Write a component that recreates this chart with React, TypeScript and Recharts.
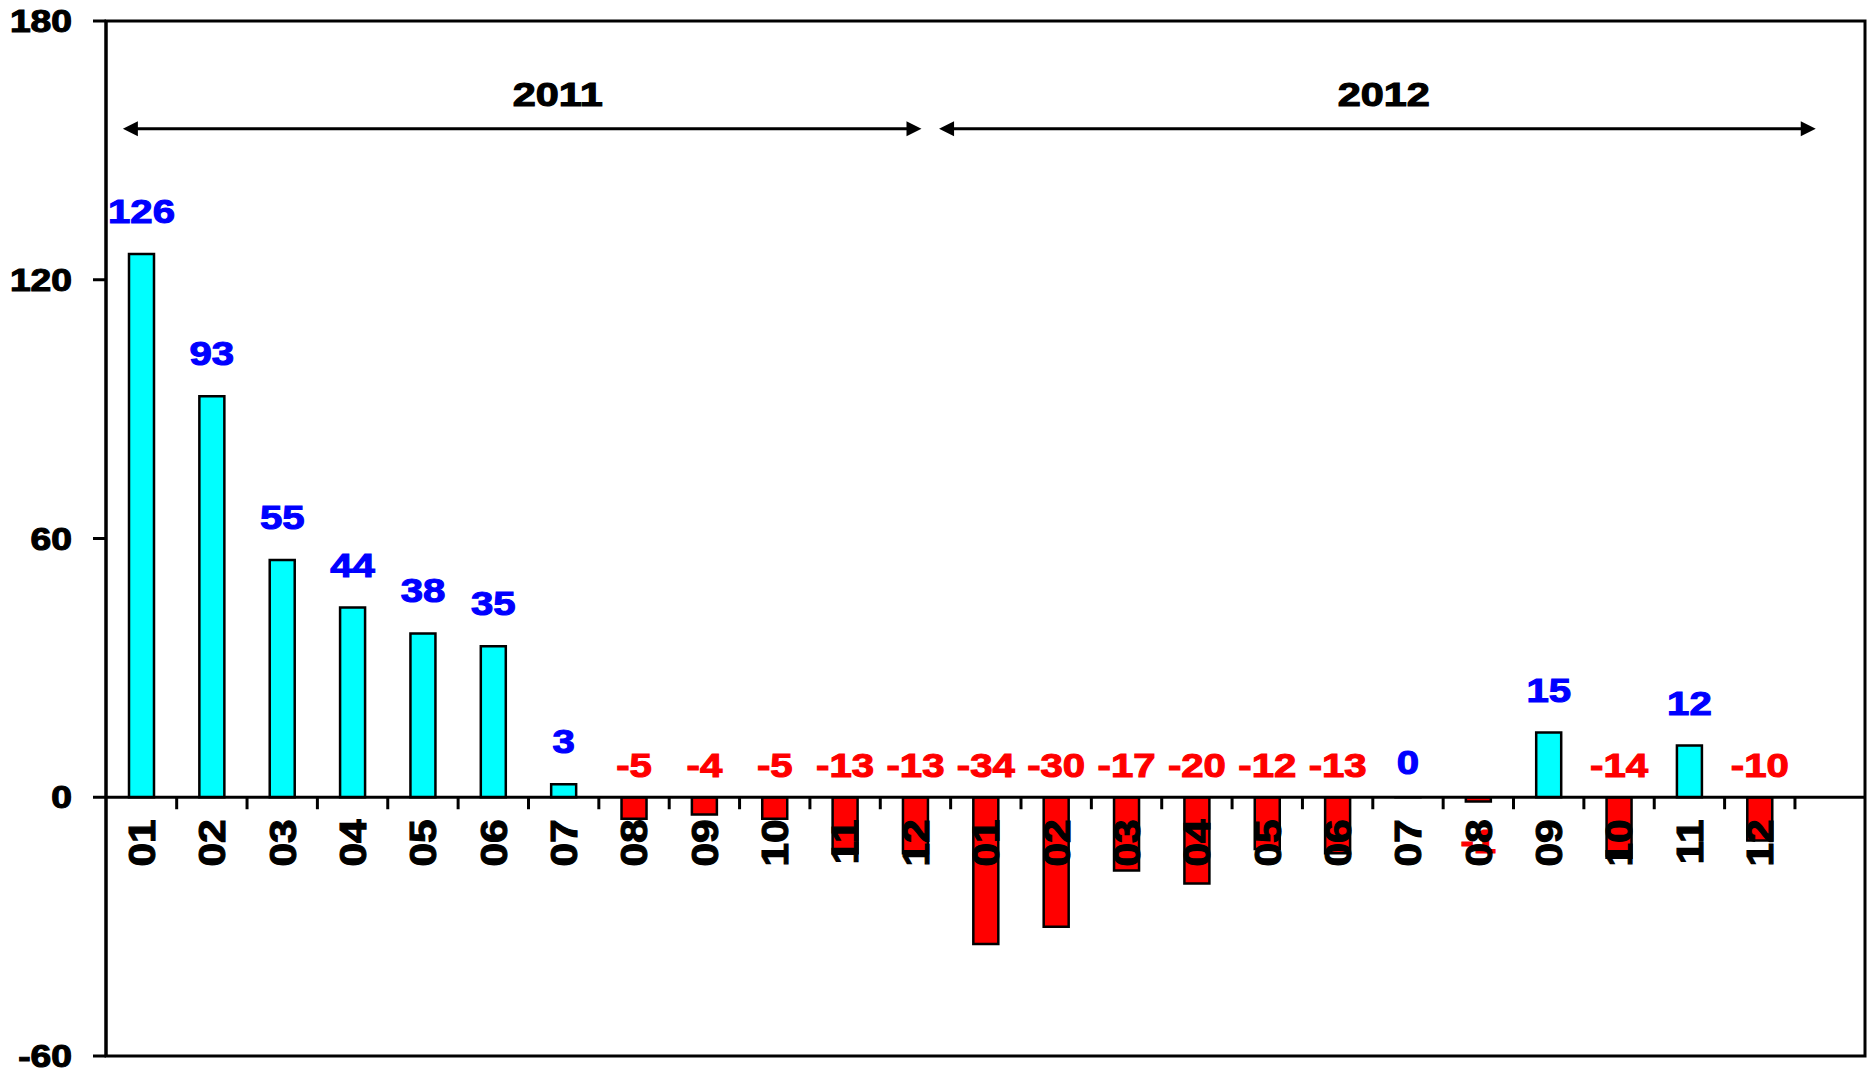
import React from "react";
import {
  BarChart,
  Bar,
  XAxis,
  YAxis,
  Cell,
  LabelList,
  ReferenceLine,
  ReferenceArea,
} from "recharts";

const MONTHS = ["01", "02", "03", "04", "05", "06", "07", "08", "09", "10", "11", "12"];
const VALUES_2011 = [126, 93, 55, 44, 38, 35, 3, -5, -4, -5, -13, -13];
const VALUES_2012 = [-34, -30, -17, -20, -12, -13, 0, -1, 15, -14, 12, -10];
const Y_TICKS = [-60, 0, 60, 120, 180];

// year arrows: first/last category, plus shifts in band widths from those centres
const YEAR_SPANS = [
  { year: "2011", first: "2011-01", last: "2011-12", startShift: -0.26, endShift: 0.09, labelAt: 5.92 },
  { year: "2012", first: "2012-01", last: "pad", startShift: -0.66, endShift: -0.2, labelAt: 5.66 },
];
const ARROW_Y = 155;

const W = 1875;
const H = 1072;
const MARGIN = { top: 21, right: 10, bottom: 16, left: 0 };
const Y_AXIS_W = 106;
const FONT = '"Liberation Sans", Arial, sans-serif';
const BLUE = "#0000ff";
const RED = "#ff0000";
const CYAN = "#00ffff";

type Row = { key: string; month: string; value: number | null };

const data: Row[] = [
  ...VALUES_2011.map((v, i) => ({ key: `2011-${MONTHS[i]}`, month: MONTHS[i], value: v })),
  ...VALUES_2012.map((v, i) => ({ key: `2012-${MONTHS[i]}`, month: MONTHS[i], value: v })),
  // empty slot at the right end, as in the original
  { key: "pad", month: "", value: null },
];

const BAND = (W - MARGIN.left - MARGIN.right - Y_AXIS_W) / data.length;

function Stretched({ x, y, sx, size, fill, anchor = "middle", children }: any) {
  return (
    <g transform={`translate(${x},${y}) scale(${sx},1)`}>
      <text
        x={0}
        y={0}
        textAnchor={anchor}
        fontFamily={FONT}
        fontWeight="bold"
        fontSize={size}
        fill={fill}
        stroke={fill}
        strokeWidth={1.1}
      >
        {children}
      </text>
    </g>
  );
}

function barBox(props: any) {
  const vb = props.viewBox ?? props;
  const x = Number(vb.x ?? props.x);
  const y = Number(vb.y ?? props.y);
  const w = Number(vb.width ?? props.width);
  const h = Number(vb.height ?? props.height);
  return { cx: x + w / 2, top: Math.min(y, y + h), bottom: Math.max(y, y + h) };
}

const renderValue = (props: any) => {
  const row = data.find((d) => d.key === props.value);
  if (!row || row.value == null) return null;
  const { cx, top, bottom } = barBox(props);
  const v = row.value;
  let baseline: number;
  if (v > 0) baseline = top - 31;
  else if (v === 0) baseline = top - 23;
  else if (v > -2) baseline = bottom + 51; // tiny bar: label sits outside the end
  else baseline = top - 20;
  return (
    <Stretched x={cx} y={baseline} sx={1.18} size={34} fill={v >= 0 ? BLUE : RED}>
      {v}
    </Stretched>
  );
};

const renderMonth = (props: any) => {
  const row = data.find((d) => d.key === props.value);
  if (!row || !row.month) return null;
  const { cx, top, bottom } = barBox(props);
  const zero = (row.value ?? 0) >= 0 ? bottom : top;
  return (
    <g>
      <line
        x1={cx + BAND / 2}
        x2={cx + BAND / 2}
        y1={zero}
        y2={zero + 12}
        stroke="#000"
        strokeWidth={3}
      />
      <g transform={`translate(${cx},${zero + 22}) rotate(-90) scale(1.15,1)`}>
        <text
          textAnchor="end"
          dy="0.36em"
          fontFamily={FONT}
          fontWeight="bold"
          fontSize={37}
          fill="#000"
          stroke="#000"
          strokeWidth={1.1}
        >
          {row.month}
        </text>
      </g>
    </g>
  );
};

const YTick = (props: any) => {
  const { x, y, payload } = props;
  return (
    <g transform={`translate(${x},${y}) scale(1.2,1)`}>
      <text
        textAnchor="end"
        dy="0.36em"
        fontFamily={FONT}
        fontWeight="bold"
        fontSize={31}
        fill="#000"
        stroke="#000"
        strokeWidth={1.1}
      >
        {payload.value}
      </text>
    </g>
  );
};

function YearArrow(props: any) {
  const { x1, y1, x2, span } = props;
  const head = 15;
  const half = 7.5;
  const a = x1 + span.startShift * BAND;
  const b = x2 + span.endShift * BAND;
  const lx = x1 + span.labelAt * BAND;
  return (
    <g>
      <line x1={a + head - 1} x2={b - head + 1} y1={y1} y2={y1} stroke="#000" strokeWidth={3} />
      <polygon points={`${a},${y1} ${a + head},${y1 - half} ${a + head},${y1 + half}`} fill="#000" />
      <polygon points={`${b},${y1} ${b - head},${y1 - half} ${b - head},${y1 + half}`} fill="#000" />
      <Stretched x={lx} y={y1 - 23} sx={1.22} size={34} fill="#000">
        {span.year}
      </Stretched>
    </g>
  );
}

export default function App() {
  return (
    <div style={{ position: "absolute", left: 0, top: 0, width: W, height: H, background: "#fff" }}>
      <BarChart width={W} height={H} data={data} margin={MARGIN} barSize={25}>
        <XAxis dataKey="key" hide />
        <YAxis
          width={Y_AXIS_W}
          domain={[-60, 180]}
          ticks={Y_TICKS}
          interval={0}
          allowDataOverflow
          tickSize={13}
          tickMargin={21}
          tick={YTick}
          axisLine={{ stroke: "#000", strokeWidth: 3 }}
          tickLine={{ stroke: "#000", strokeWidth: 3 }}
        />
        <ReferenceArea
          y1={-60}
          y2={180}
          fill="none"
          fillOpacity={0}
          stroke="#000"
          strokeWidth={3}
          ifOverflow="visible"
        />
        <Bar
          dataKey="value"
          stroke="#000"
          strokeWidth={2.5}
          minPointSize={0.01}
          isAnimationActive={false}
        >
          {data.map((d) => (
            <Cell key={d.key} fill={(d.value ?? 0) >= 0 ? CYAN : RED} />
          ))}
          <LabelList dataKey="key" content={renderValue} />
          <LabelList dataKey="key" content={renderMonth} />
        </Bar>
        <ReferenceLine y={0} stroke="#000" strokeWidth={3} />
        {YEAR_SPANS.map((s) => (
          <ReferenceLine
            key={s.year}
            ifOverflow="visible"
            segment={[
              { x: s.first, y: ARROW_Y },
              { x: s.last, y: ARROW_Y },
            ]}
            shape={(p: any) => <YearArrow {...p} span={s} />}
          />
        ))}
      </BarChart>
    </div>
  );
}
